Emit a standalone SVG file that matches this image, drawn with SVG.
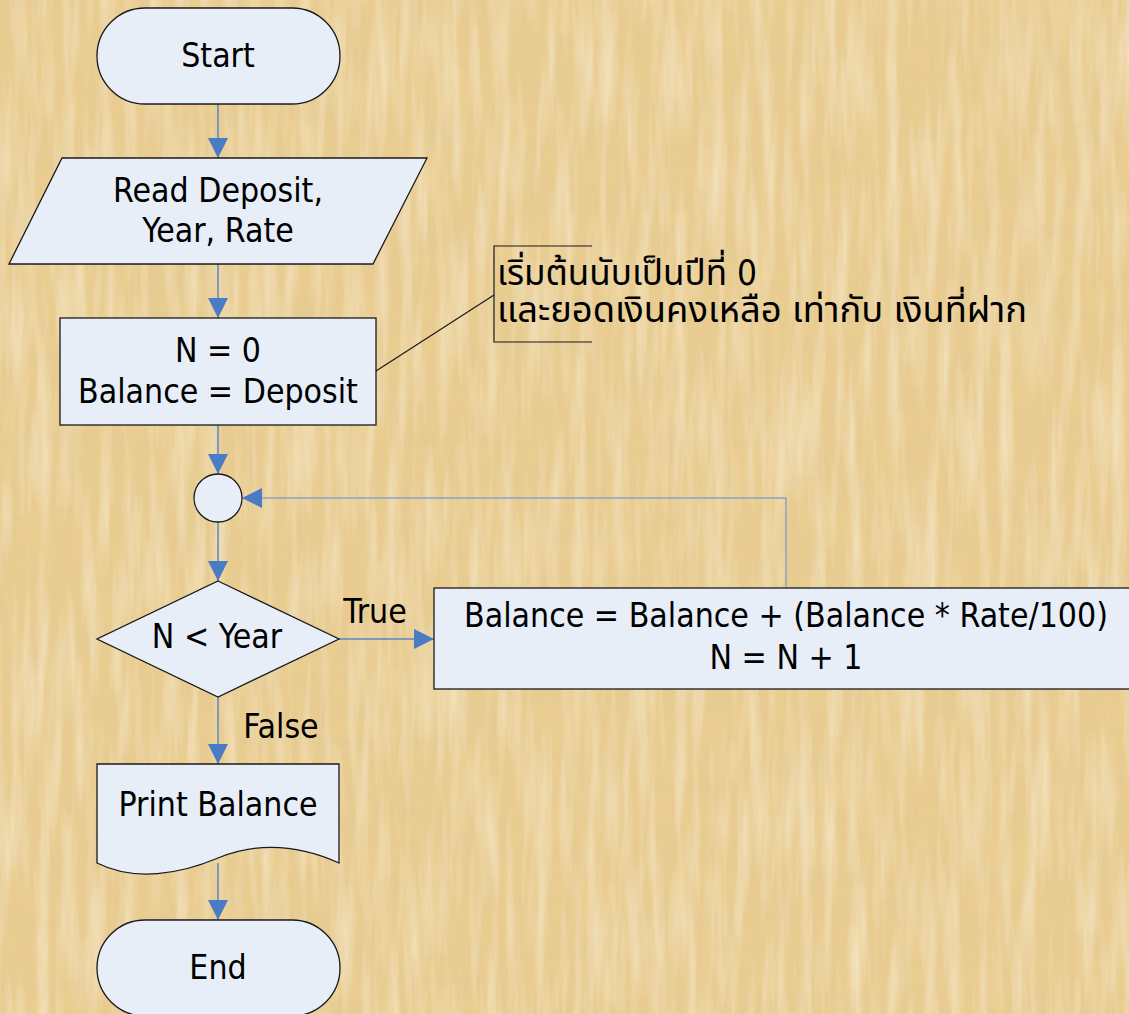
<svg xmlns="http://www.w3.org/2000/svg" width="1129" height="1014" viewBox="0 0 1129 1014">
  <defs>
    <style>
      .shape { fill: #E7EEF8; stroke: #1A1A1A; stroke-width: 1.3; }
      .lbl { font-family: Tahoma, "DejaVu Sans Condensed", "DejaVu Sans", sans-serif; font-size: 33.5px; fill: #000; text-anchor: middle; }
      .note { font-family: Tahoma, "DejaVu Sans Condensed", "DejaVu Sans", "Noto Sans Thai", "Noto Sans", sans-serif; font-size: 35px; fill: #000; }
      .flow { fill: none; stroke: #5A87C8; stroke-width: 1.5; }
      .loop { fill: none; stroke: #8DA3C4; stroke-width: 1.5; }
      .callout { fill: none; stroke: #1A1A1A; stroke-width: 1.2; }
    </style>
    <marker id="head" markerUnits="userSpaceOnUse" markerWidth="20" markerHeight="20" viewBox="0 0 18 18" refX="18" refY="9" orient="auto">
      <path d="M0,0 L18,9 L0,18 Z" fill="#4A7CC6"/>
    </marker>
    <!-- woven papyrus fibres: vertical and horizontal strands -->
    <filter id="papyrus" x="0" y="0" width="100%" height="100%">
      <feTurbulence type="fractalNoise" baseFrequency="0.008 0.08" numOctaves="3" seed="4" result="vert"/>
      <feColorMatrix in="vert" type="matrix" values="0 0 0 0 0.74  0 0 0 0 0.58  0 0 0 0 0.3  0.8 0 0 0 -0.34" result="vtint"/>
      <feTurbulence type="fractalNoise" baseFrequency="0.08 0.008" numOctaves="3" seed="9" result="horz"/>
      <feColorMatrix in="horz" type="matrix" values="0 0 0 0 1  0 0 0 0 0.93  0 0 0 0 0.74  0.9 0 0 0 -0.36" result="htint"/>
      <feTurbulence type="fractalNoise" baseFrequency="0.1 0.012" numOctaves="2" seed="15" result="horz2"/>
      <feColorMatrix in="horz2" type="matrix" values="0 0 0 0 0.74  0 0 0 0 0.58  0 0 0 0 0.3  0.7 0 0 0 -0.3" result="h2tint"/>
      <feMerge>
        <feMergeNode in="SourceGraphic"/>
        <feMergeNode in="vtint"/>
        <feMergeNode in="h2tint"/>
        <feMergeNode in="htint"/>
      </feMerge>
    </filter>
  </defs>

  <!-- papyrus backdrop -->
  <rect x="0" y="0" width="1129" height="1014" fill="#E9CC90" filter="url(#papyrus)"/>

  <!-- connectors -->
  <g id="connectors">
    <path class="flow" d="M218,104 V158" marker-end="url(#head)"/>
    <path class="flow" d="M218,264 V318" marker-end="url(#head)"/>
    <path class="flow" d="M218,425 V474" marker-end="url(#head)"/>
    <path class="flow" d="M218,522 V581" marker-end="url(#head)"/>
    <path class="flow" d="M339,639 H434" marker-end="url(#head)"/>
    <path class="flow" d="M218,697 V764" marker-end="url(#head)"/>
    <path class="flow" d="M218,863 V920" marker-end="url(#head)"/>
    <path class="loop" d="M786,588 V498 H242" marker-end="url(#head)"/>
    <text class="lbl" x="375" y="623">True</text>
    <text class="lbl" x="281" y="738">False</text>
  </g>

  <g id="start">
    <rect class="shape" x="97" y="8" width="243" height="96" rx="48" ry="48"/>
    <text class="lbl" x="218" y="67">Start</text>
  </g>

  <g id="read-input">
    <polygon class="shape" points="62,158 427,158 373,264 9,264"/>
    <text class="lbl" x="218" y="202">Read Deposit,</text>
    <text class="lbl" x="218" y="242">Year, Rate</text>
  </g>

  <g id="init">
    <rect class="shape" x="60" y="318" width="316" height="107"/>
    <text class="lbl" x="218" y="362">N = 0</text>
    <text class="lbl" x="218" y="403">Balance = Deposit</text>
  </g>

  <g id="init-note">
    <path class="callout" d="M376,371 L494,295"/>
    <path class="callout" d="M592,246 H494 V342 H592"/>
    <text class="note" x="497" y="285" textLength="260" lengthAdjust="spacingAndGlyphs">เริ่มต้นนับเป็นปีที่ 0</text>
    <text class="note" x="497" y="322" textLength="530" lengthAdjust="spacingAndGlyphs">และยอดเงินคงเหลือ เท่ากับ เงินที่ฝาก</text>
  </g>

  <g id="join">
    <circle class="shape" cx="218" cy="498" r="24"/>
  </g>

  <g id="check-year">
    <polygon class="shape" points="218,581 339,639 218,697 97,639"/>
    <text class="lbl" x="217" y="648">N &lt; Year</text>
  </g>

  <g id="update">
    <rect class="shape" x="434" y="588" width="704" height="101"/>
    <text class="lbl" x="786" y="627">Balance = Balance + (Balance * Rate/100)</text>
    <text class="lbl" x="786" y="669">N = N + 1</text>
  </g>

  <g id="print">
    <path class="shape" d="M97,764 H339 V863 C295,843 255,843 218,858 C180,874 135,882 97,863 Z"/>
    <text class="lbl" x="218" y="816">Print Balance</text>
  </g>

  <g id="end">
    <rect class="shape" x="97" y="920" width="243" height="96" rx="48" ry="48"/>
    <text class="lbl" x="218" y="979">End</text>
  </g>
</svg>
